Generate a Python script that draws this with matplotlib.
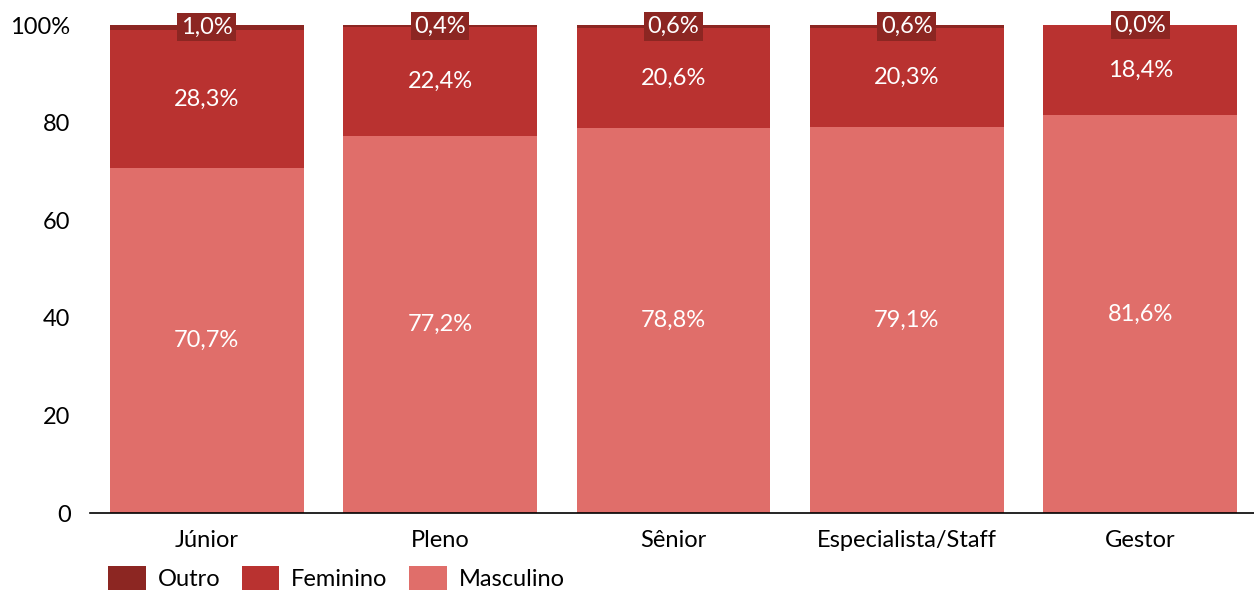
import numpy as np
import matplotlib.pyplot as plt

plt.rcParams['font.family'] = ['Lato', 'DejaVu Sans']

niveis = ["Júnior", "Pleno", "Sênior", "Especialista/Staff", "Gestor"]
masculino = [70.7, 77.2, 78.8, 79.1, 81.6]
feminino = [28.3, 22.4, 20.6, 20.3, 18.4]
outro = [1.0, 0.4, 0.6, 0.6, 0.0]

cor_outro = "#8c2622"
cor_fem = "#b93230"
cor_masc = "#e06e6a"
fs = 17

def fmt(v):
    return f"{v:.1f}%".replace(".", ",")

fig = plt.figure(figsize=(12.54, 5.92), dpi=100)
ax = fig.add_axes([90 / 1254, 1 - 513 / 592, 1167 / 1254, 488 / 592])

x = np.arange(len(niveis))
w = 0.83
masc = np.array(masculino)
fem = np.array(feminino)
out = np.array(outro)

b1 = ax.bar(x, masc, w, color=cor_masc, label="Masculino")
b2 = ax.bar(x, fem, w, bottom=masc, color=cor_fem, label="Feminino")
b3 = ax.bar(x, out, w, bottom=masc + fem, color=cor_outro, label="Outro")

for i in range(len(niveis)):
    ax.text(x[i], masc[i] / 2, fmt(masc[i]), ha="center", va="center",
            color="white", fontsize=fs)
    ax.text(x[i], masc[i] + fem[i] / 2, fmt(fem[i]), ha="center", va="center",
            color="white", fontsize=fs)
    ax.text(x[i], masc[i] + fem[i] + out[i] / 2, fmt(out[i]), ha="center", va="center",
            color="white", fontsize=fs,
            bbox=dict(boxstyle="square,pad=0.15", fc=cor_outro, ec="none"))

ax.set_xlim(-0.5, len(niveis) - 0.5)
ax.set_ylim(0, 100)
ax.set_yticks([0, 20, 40, 60, 80, 100])
ax.set_yticklabels(["0", "20", "40", "60", "80", "100%"])
ax.set_xticks(x)
ax.set_xticklabels(niveis)
ax.tick_params(axis="both", length=0, labelsize=fs, colors="black")
ax.tick_params(axis="y", pad=14)
ax.tick_params(axis="x", pad=12)
for s in ["top", "right", "left"]:
    ax.spines[s].set_visible(False)
ax.spines["bottom"].set_linewidth(1.2)
ax.spines["bottom"].set_color("black")

fig.legend(handles=[b3, b2, b1], labels=["Outro", "Feminino", "Masculino"],
           loc="center left", bbox_to_anchor=(87 / 1254, 1 - 578 / 592),
           ncol=3, frameon=False, fontsize=fs, handlelength=1.6, handleheight=1.25,
           handletextpad=0.5, columnspacing=0.9)

fig.savefig("out.png", dpi=100)
